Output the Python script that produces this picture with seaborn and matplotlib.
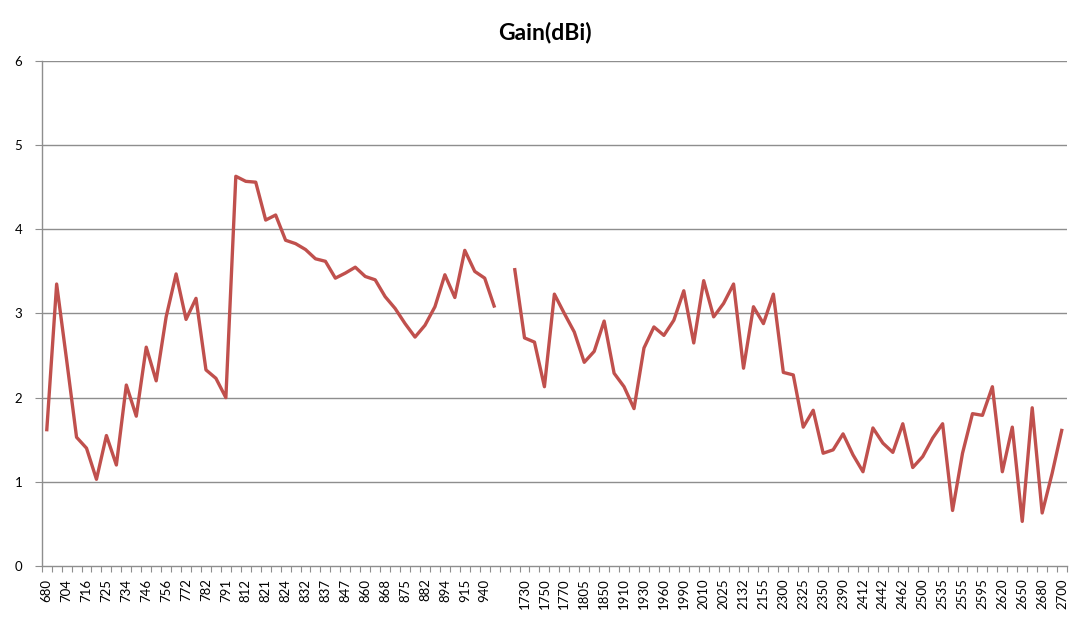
import numpy as np
import pandas as pd
import matplotlib
matplotlib.use("Agg")
import matplotlib.pyplot as plt
import seaborn as sns

# ---- data -------------------------------------------------------------
# visible tick labels (every second category; '' = empty gap category)
freq_labels = ["680", "704", "716", "725", "734", "746", "756", "772", "782", "791",
               "812", "821", "824", "832", "837", "847", "860", "868", "875", "882",
               "894", "915", "940", "", "1730", "1750", "1770", "1805", "1850", "1910",
               "1930", "1960", "1990", "2010", "2025", "2132", "2155", "2300", "2325",
               "2350", "2390", "2412", "2442", "2462", "2500", "2535", "2555", "2595",
               "2620", "2650", "2680", "2700"]

# gain per category (103 categories, one empty between bands)
gain_low_band = [1.60, 3.35, 2.45, 1.53, 1.40, 1.03, 1.55, 1.20, 2.15, 1.78,
                 2.60, 2.20, 2.96, 3.47, 2.93, 3.18, 2.33, 2.23, 2.00, 4.63,
                 4.57, 4.56, 4.11, 4.17, 3.87, 3.83, 3.76, 3.65, 3.62, 3.42,
                 3.48, 3.55, 3.44, 3.40, 3.20, 3.06, 2.88, 2.72, 2.86, 3.08,
                 3.46, 3.19, 3.75, 3.50, 3.42, 3.07]
gain_gap = [np.nan]
gain_high_band = [3.54, 2.71, 2.66, 2.13, 3.23, 3.00, 2.78, 2.42, 2.55, 2.91,
                  2.29, 2.13, 1.87, 2.59, 2.84, 2.74, 2.92, 3.27, 2.65, 3.39,
                  2.96, 3.12, 3.35, 2.35, 3.08, 2.88, 3.23, 2.30, 2.27, 1.65,
                  1.85, 1.34, 1.38, 1.57, 1.32, 1.12, 1.64, 1.46, 1.35, 1.69,
                  1.17, 1.30, 1.52, 1.69, 0.66, 1.34, 1.81, 1.79, 2.13, 1.12,
                  1.65, 0.53, 1.88, 0.63, 1.10, 1.63]

title_text = "Gain(dBi)"
y_ticks = [0, 1, 2, 3, 4, 5, 6]

# ---- build table -----------------------------------------------------
gain = gain_low_band + gain_gap + gain_high_band
n = len(gain)
segment = (["low"] * len(gain_low_band) + ["gap"] * len(gain_gap)
           + ["high"] * len(gain_high_band))
df = pd.DataFrame({"cat": np.arange(n), "gain": gain, "segment": segment})
df = df.dropna()

# ---- style -----------------------------------------------------------
sns.set_theme(style="white")
plt.rcParams["font.family"] = ["Lato", "DejaVu Sans"]

fig = plt.figure(figsize=(10.75, 6.19), dpi=100)
ax = fig.add_axes([0.0388, 0.0856, 0.9538, 0.8159])

grid_col = "#8e8e8e"
for v in y_ticks[1:]:
    ax.axhline(v, color=grid_col, lw=1.0, zorder=0)

sns.lineplot(data=df, x="cat", y="gain", units="segment", estimator=None,
             color="#C0504D", lw=2.4, ax=ax, legend=False,
             solid_joinstyle="round", solid_capstyle="butt", sort=False)

ax.set_xlim(-0.5, n - 0.5)
ax.set_ylim(0, 6)
ax.set_yticks(y_ticks)
ax.set_yticklabels([str(v) for v in y_ticks])

label_pos = np.arange(0, n, 2)
ax.set_xticks(label_pos)
ax.set_xticklabels(freq_labels, rotation=90, ha="center", va="top")
ax.set_xticks(np.arange(-0.5, n + 0.5, 1), minor=True)

ax.tick_params(axis="x", which="major", length=0, pad=9, labelsize=9.5,
               colors="black")
ax.tick_params(axis="x", which="minor", length=4, width=0.8, color=grid_col,
               direction="out", bottom=True)
ax.tick_params(axis="y", which="major", length=5, width=0.8, color=grid_col,
               direction="out", left=True, pad=9, labelsize=9.5,
               labelcolor="black")

ax.set_xlabel("")
ax.set_ylabel("")
for s in ["top", "right"]:
    ax.spines[s].set_visible(False)
for s in ["left", "bottom"]:
    ax.spines[s].set_color(grid_col)
    ax.spines[s].set_linewidth(1.0)

fig.text(0.507, 0.948, title_text, ha="center", va="center",
         fontsize=16.5, fontweight="bold", color="black")

fig.savefig("out.png", dpi=100, facecolor="white")
